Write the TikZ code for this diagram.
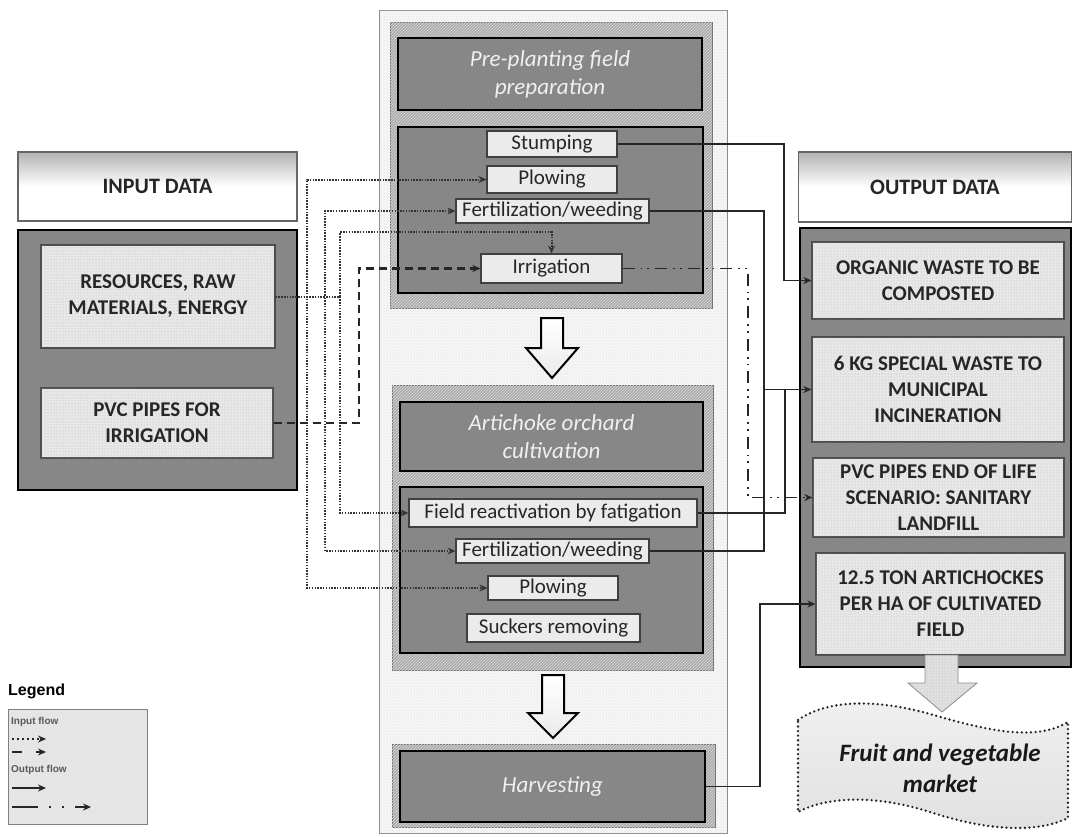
\documentclass[tikz,border=0pt]{standalone}
\usepackage{fontspec}
\setmainfont{Carlito}
\newfontfamily\legfont{Liberation Sans}
\usetikzlibrary{arrows.meta,patterns,calc}
\newcommand\myfs[2]{\fontsize{#1}{#2}\selectfont}
\begin{document}
\begin{tikzpicture}[x=1pt,y=-1pt,
  darkbox/.style={draw=black, line width=2.4pt, fill=black!47, inner sep=0pt},
  titlebox/.style={darkbox, text=black!6, font=\myfs{23}{28}\itshape, align=center},
  lightbox/.style={draw=black!70, line width=1.2pt, fill=black!9, inner sep=0pt,
     postaction={pattern=dots, pattern color=black!30}, font=\myfs{21}{26}\bfseries, text=black!85, align=center},
  step1/.style={draw=black!75, line width=1.2pt, fill=black!8, inner sep=0pt, font=\myfs{21}{24}, text=black!85},
  hatchbox/.style={draw=black!55, line width=0.8pt, fill=black!33, inner sep=0pt,
     postaction={pattern=north east lines, pattern color=black!15}},
  outerbox/.style={draw=black!45, line width=0.8pt, fill=black!4, inner sep=0pt,
     postaction={pattern=dots, pattern color=black!16}},
  header/.style={draw=black!60, line width=1.2pt, top color=black!30, bottom color=white, middle color=white, inner sep=0pt, font=\myfs{22}{24}\bfseries, text=black!85},
  indot/.style={line width=2pt, dash pattern=on 1.5pt off 1.3pt, black!80},
  indash/.style={line width=2.2pt, dash pattern=on 8pt off 5pt, black!85},
  outsolid/.style={line width=1.5pt, black!85},
  outdd/.style={line width=1.8pt, dash pattern=on 12pt off 6pt on 1.8pt off 5pt on 1.8pt off 6pt, black!85},
  tip/.style={-{Stealth[length=8pt,width=7pt]}},
  bigarrow/.style={draw=black, line width=2pt, top color=white, bottom color=black!8, line join=miter}
]
\useasboundingbox (0,0) rectangle (1073,836);
\fill[white] (0,0) rectangle (1073,836);

% ---------- input side
\node[header, minimum width=279, minimum height=69] (inhead) at (157.5,186.5) {INPUT DATA};
\node[darkbox, minimum width=279, minimum height=260] (inmain) at (157.5,360) {};
\node[lightbox, minimum width=234, minimum height=103] (res) at (158,296.5) {RESOURCES, RAW\\MATERIALS, ENERGY};
\node[lightbox, minimum width=232, minimum height=70] (pvc) at (157,423) {PVC PIPES FOR\\IRRIGATION};

% ---------- centre column
\node[outerbox, minimum width=348, minimum height=823] (centre) at (553,421.5) {};
\node[hatchbox, minimum width=322, minimum height=286] (preout) at (551,165) {};
\node[titlebox, minimum width=304, minimum height=72] (pretitle) at (550,74) {Pre-planting field\\preparation};
\node[darkbox, minimum width=305, minimum height=166] (prein) at (550.5,210) {};
\node[step1, minimum width=130, minimum height=26] (stump) at (552,144) {Stumping};
\node[step1, minimum width=130, minimum height=27] (plow1) at (552,179.5) {Plowing};
\node[step1, minimum width=193, minimum height=24] (fert1) at (552.5,211) {Fertilization/weeding};
\node[step1, minimum width=141, minimum height=29] (irr) at (551.5,268.5) {Irrigation};

\node[hatchbox, minimum width=321, minimum height=285] (artout) at (552.5,527.5) {};
\node[titlebox, minimum width=303, minimum height=69] (arttitle) at (551.5,436.5) {Artichoke orchard\\cultivation};
\node[darkbox, minimum width=303, minimum height=166] (artin) at (551.5,570) {};
\node[step1, minimum width=288, minimum height=28] (fr) at (553,513) {Field reactivation by fatigation};
\node[step1, minimum width=193, minimum height=24] (fert2) at (552.5,551) {Fertilization/weeding};
\node[step1, minimum width=130, minimum height=24] (plow2) at (553,588) {Plowing};
\node[step1, minimum width=173, minimum height=28] (suck) at (553.5,628) {Suckers removing};

\node[hatchbox, minimum width=323, minimum height=83] (harvout) at (553.5,785.5) {};
\node[titlebox, minimum width=305, minimum height=71] (harv) at (552.5,786.5) {Harvesting};

% big arrows
\draw[bigarrow] (541,318) -- (563,318) -- (563,348) -- (578,348) -- (552,378) -- (526,348) -- (541,348) -- cycle;
\draw[bigarrow] (542,675) -- (564,675) -- (564,713) -- (578,713) -- (553,738) -- (528,713) -- (542,713) -- cycle;

% ---------- output side
\node[header, minimum width=273, minimum height=70] (outhead) at (935,187) {OUTPUT DATA};
\node[darkbox, minimum width=271, minimum height=439] (outmain) at (935.5,447.5) {};
\node[lightbox, minimum width=252, minimum height=77] (org) at (938,280.5) {ORGANIC WASTE TO BE\\COMPOSTED};
\node[lightbox, minimum width=252, minimum height=105] (kg) at (938,389.5) {6 KG SPECIAL WASTE TO\\MUNICIPAL\\INCINERATION};
\node[lightbox, minimum width=251, minimum height=79] (eol) at (938.5,497.5) {PVC PIPES END OF LIFE\\SCENARIO: SANITARY\\LANDFILL};
\node[lightbox, minimum width=249, minimum height=102] (ton) at (940.5,604) {12.5 TON ARTICHOCKES\\PER HA OF CULTIVATED\\FIELD};

% output arrow to market
\draw[draw=black!45, line width=0.8pt, fill=black!12, postaction={pattern=dots, pattern color=black!30}]
  (925,655) -- (958,655) -- (958,683) -- (977,683) -- (942,712) -- (908,683) -- (925,683) -- cycle;

% market
\path[top color=black!6, bottom color=black!12]
  (798,720) .. controls (830,698) and (880,700) .. (930,714) .. controls (985,730) and (1035,742) .. (1068,722)
  -- (1068,818) .. controls (1035,834) and (985,830) .. (930,812) .. controls (880,796) and (830,795) .. (798,812) -- cycle;
\draw[black!85, line width=2.6pt, line cap=round, dash pattern=on 0pt off 4.6pt]
  (798,720) .. controls (830,698) and (880,700) .. (930,714) .. controls (985,730) and (1035,742) .. (1068,722)
  -- (1068,818) .. controls (1035,834) and (985,830) .. (930,812) .. controls (880,796) and (830,795) .. (798,812) -- cycle;
\node[font=\myfs{25}{31}\bfseries\itshape, align=center, text=black!90] (market) at (940,768) {Fruit and vegetable\\market};

% ---------- input connectors
\draw[indot, tip] (res.east) -- (307,296.5) |- (plow1.west);
\draw[indot, tip] (res.east) -- (325,296.5) |- (fert1.west);
\draw[indot, tip] (res.east) -- (340,296.5) |- ($(irr.north)+(0,-21)$) -- (irr.north);
\draw[indot, tip] (res.east) -- (340,296.5) |- (fr.west);
\draw[indot, tip] (res.east) -- (325,296.5) |- (fert2.west);
\draw[indot, tip] (res.east) -- (307,296.5) |- (plow2.west);
\draw[indash, tip] (pvc.east) -- (359,423) |- (irr.west);

% ---------- output connectors
\draw[outsolid, tip] (stump.east) -| (784,280.5) -- (org.west);
\draw[outsolid, tip] (fert1.east) -| (764,389.5) -- (kg.west);
\draw[outsolid] (fr.east) -| (785,389.5);
\draw[outsolid] (fert2.east) -| (764,389.5);
\draw[outdd, tip] (irr.east) -| (748,497.5) -- (eol.west);
\draw[outsolid, tip] (harv.east) -| (760,604) -- (ton.west);

% ---------- legend
\node[anchor=west, font=\legfont\myfs{16}{18}\bfseries, inner sep=0pt] (legtitle) at (8,691) {Legend};
\node[draw=black!50, line width=1pt, fill=black!10, minimum width=139, minimum height=115, inner sep=0pt] (legbox) at (77.5,766.5) {};
\node[anchor=west, font=\legfont\myfs{10}{12}\bfseries, text=black!65, inner sep=0pt] (lin) at (11,722) {Input flow};
\node[anchor=west, font=\legfont\myfs{10}{12}\bfseries, text=black!65, inner sep=0pt] (lout) at (11,770) {Output flow};
\coordinate (l1a) at (12,739); \coordinate (l1b) at (46,739);
\coordinate (l2a) at (12,752); \coordinate (l2b) at (46,752);
\coordinate (l3a) at (12,788); \coordinate (l3b) at (46,788);
\coordinate (l4a) at (12,807); \coordinate (l4b) at (91,807);
\draw[line width=2.2pt, dash pattern=on 2pt off 3pt, black!85, tip] (l1a) -- (l1b);
\draw[line width=2.2pt, black!85, dash pattern=on 10pt off 14pt, tip] (l2a) -- (l2b);
\draw[outsolid, line width=2pt, tip] (l3a) -- (l3b);
\draw[line width=2pt, black!85, dash pattern=on 26pt off 11pt on 2.2pt off 11pt on 2.2pt off 11pt, tip] (l4a) -- (l4b);
\end{tikzpicture}
\end{document}
